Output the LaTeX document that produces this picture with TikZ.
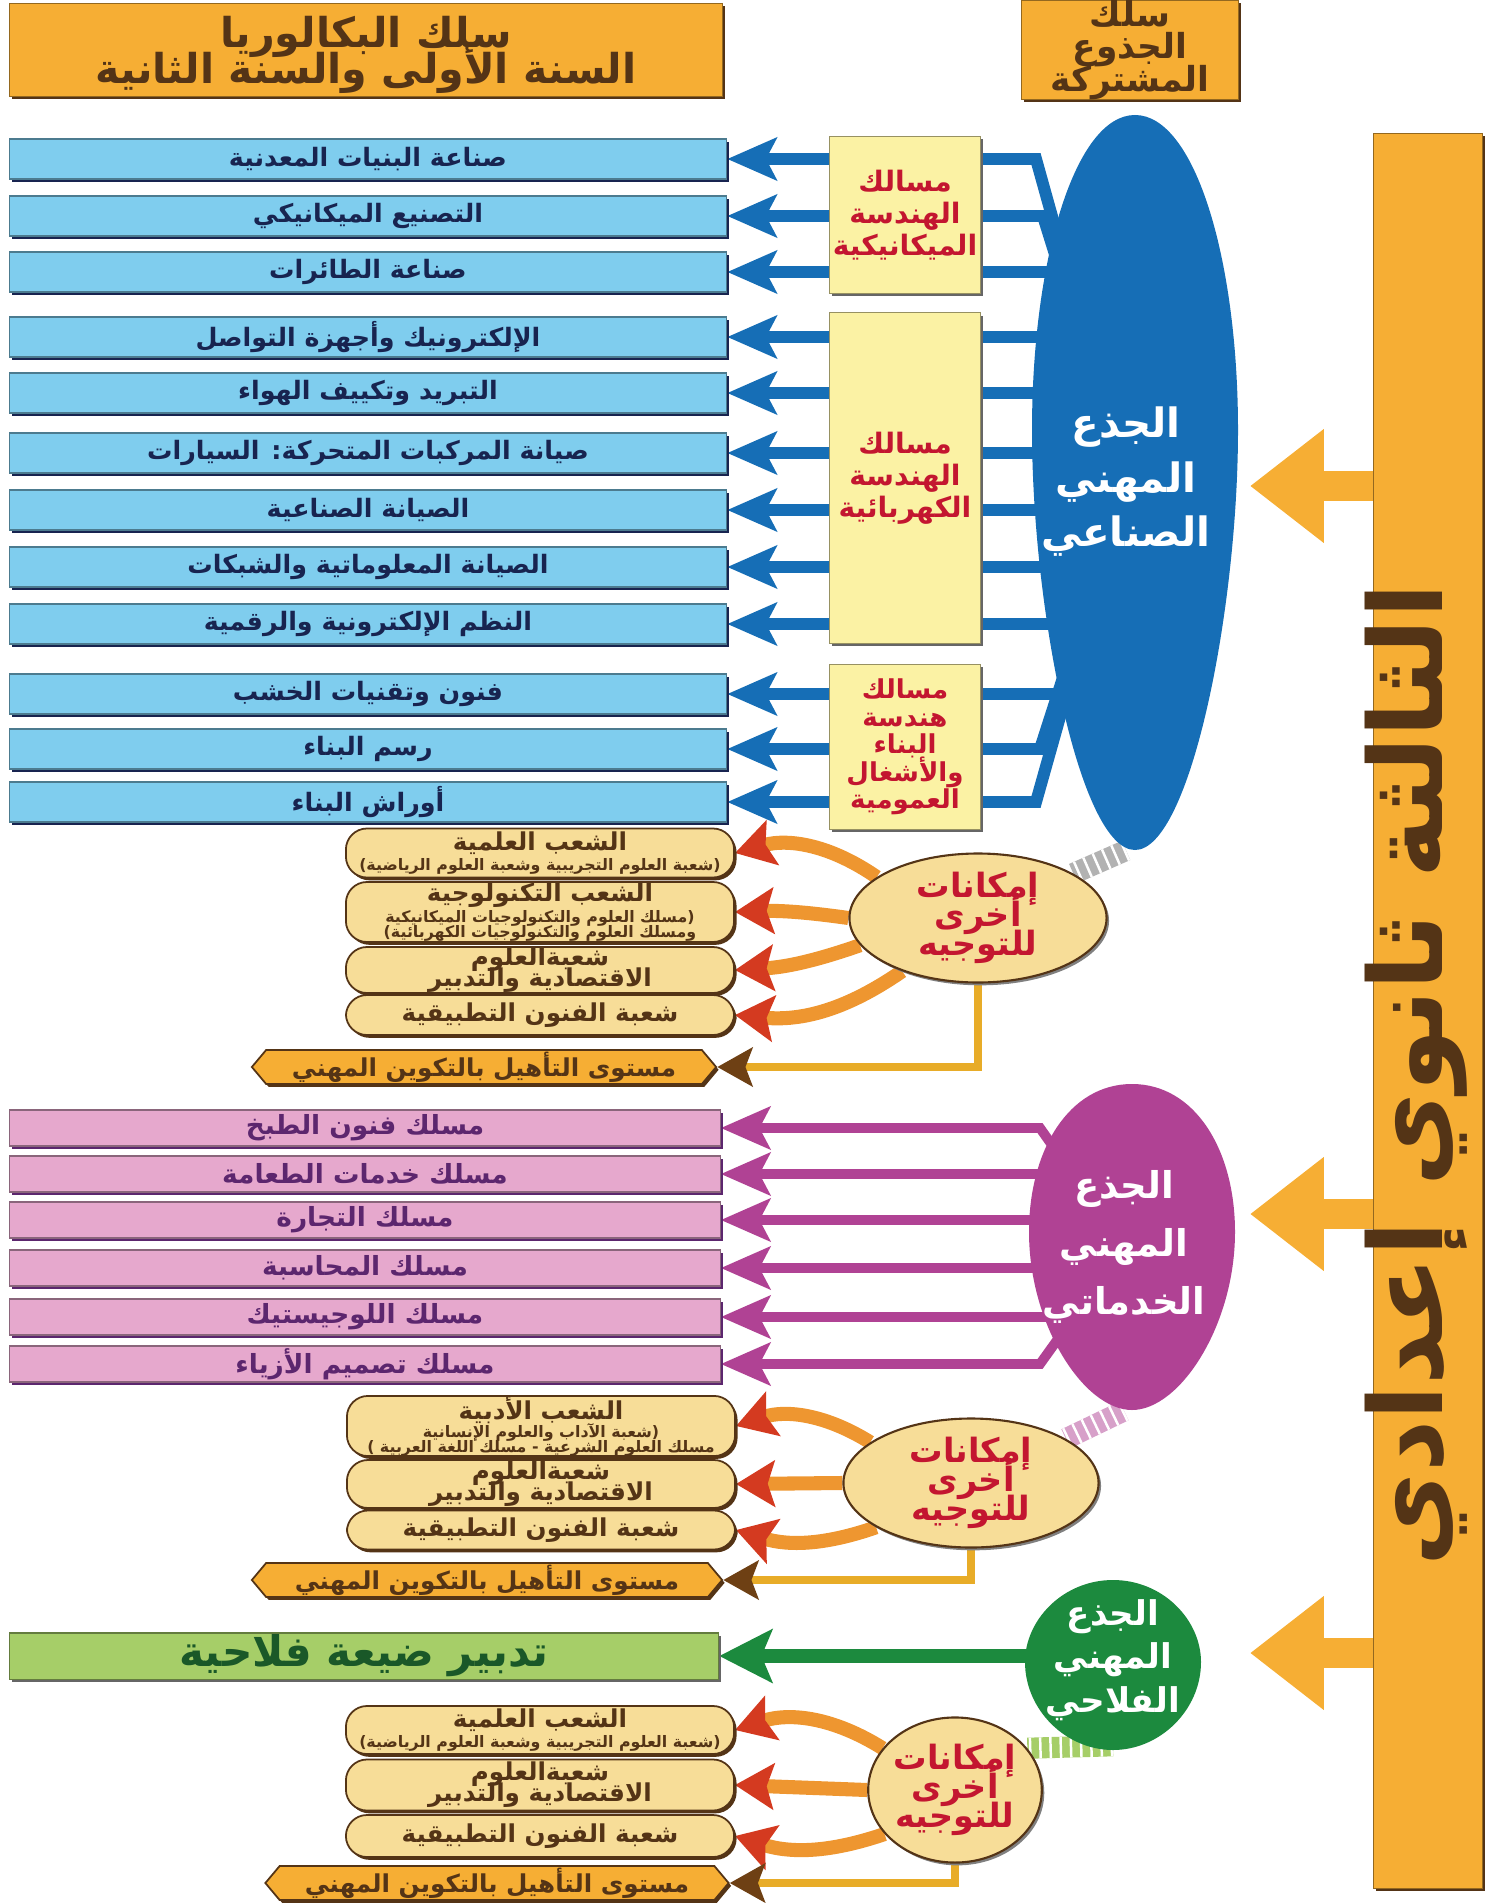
\documentclass[tikz,border=0pt]{standalone}
\usepackage{fontspec}
\usetikzlibrary{shapes.geometric,shapes.symbols,arrows.meta,shadows}

\newfontfamily\arabicfont[Script=Arabic]{DejaVu Sans}
\TeXXeTstate=1
\lineskiplimit=-100pt
\newcommand{\rl}[1]{\beginR #1\endR}
\newcommand{\subline}[1]{{\fontsize{4.5}{4.2}\selectfont\rl{#1}}}

\definecolor{ambar}{RGB}{246,174,52}
\definecolor{headbrown}{RGB}{84,52,22}
\definecolor{skyblue}{RGB}{127,205,238}
\definecolor{navytext}{RGB}{24,36,80}
\definecolor{indblue}{RGB}{22,110,182}
\definecolor{trackyellow}{RGB}{251,242,164}
\definecolor{crimson}{RGB}{195,22,48}
\definecolor{pinkbar}{RGB}{230,168,205}
\definecolor{plum}{RGB}{92,38,110}
\definecolor{svcmagenta}{RGB}{176,66,148}
\definecolor{agrgreen}{RGB}{28,138,62}
\definecolor{limebar}{RGB}{166,206,104}
\definecolor{forest}{RGB}{26,88,40}
\definecolor{sand}{RGB}{247,221,152}
\definecolor{arrowred}{RGB}{212,58,32}
\definecolor{arroworange}{RGB}{238,150,48}
\definecolor{gold}{RGB}{232,172,40}
\definecolor{darkbrown}{RGB}{110,64,20}

\pgfdeclarelayer{background}
\pgfsetlayers{background,main}

\tikzset{
  % shadow under the boxes
  boxshadow/.style={drop shadow={shadow xshift=0.7pt,shadow yshift=-0.8pt,fill=#1,opacity=1}},
  headbox/.style={rectangle, fill=ambar, draw=ambar!60!black, line width=0.3pt, inner sep=0pt,
    align=center, text=headbrown, boxshadow=headbrown},
  trunk/.style={rectangle, inner sep=0pt, align=center, text=white,
    font=\arabicfont\bfseries\fontsize{11.5}{15.5}\selectfont},
  trackbox/.style={rectangle, fill=trackyellow, draw=trackyellow!60!black, line width=0.3pt,
    minimum width=1.5cm, inner sep=0pt, align=center, text=crimson, boxshadow=black!60,
    font=\arabicfont\bfseries\fontsize{8}{9.1}\selectfont},
  indbar/.style={rectangle, fill=skyblue, draw=skyblue!60!black, line width=0.3pt,
    minimum width=7.17cm, minimum height=0.4cm, inner sep=0pt, text=navytext, boxshadow=navytext,
    font=\arabicfont\bfseries\fontsize{7.2}{8}\selectfont},
  svcbar/.style={rectangle, fill=pinkbar, draw=pinkbar!60!black, line width=0.3pt,
    minimum width=7.10cm, minimum height=0.36cm, inner sep=0pt, text=plum, boxshadow=plum,
    font=\arabicfont\bfseries\fontsize{7.5}{8}\selectfont},
  agrbar/.style={rectangle, fill=limebar, draw=limebar!60!black, line width=0.3pt,
    minimum width=7.09cm, minimum height=0.46cm, inner sep=0pt, text=forest, boxshadow=black!60,
    font=\arabicfont\bfseries\fontsize{12}{13}\selectfont},
  optnode/.style={ellipse, fill=sand, draw=headbrown, line width=0.6pt, inner sep=0pt,
    align=center, text=crimson, boxshadow=black!50,
    font=\arabicfont\bfseries\fontsize{9.5}{8.2}\selectfont},
  branchbox/.style={rectangle, rounded corners=6pt, fill=sand, draw=headbrown, line width=0.5pt,
    minimum width=3.88cm, inner sep=0pt, align=center, text=headbrown, boxshadow=headbrown,
    font=\arabicfont\bfseries\fontsize{7}{4.2}\selectfont},
  qualify/.style={signal, signal to=west and east, signal pointer angle=100, fill=ambar,
    draw=headbrown, line width=0.5pt, minimum height=0.34cm, inner sep=0pt, text=headbrown,
    boxshadow=headbrown, font=\arabicfont\bfseries\fontsize{7}{8}\selectfont},
  indarrow/.style={draw=indblue, line width=3.4pt, -{Stealth[length=14pt,width=12pt,inset=3pt]}},
  svcarrow/.style={draw=svcmagenta, line width=2.8pt, -{Stealth[length=14pt,width=12pt,inset=3pt]}},
  agrarrow/.style={draw=agrgreen, line width=4pt, -{Stealth[length=15pt,width=15pt,inset=3pt]}},
  bigarrow/.style={draw=ambar, line width=8.5pt, -{Triangle[length=21pt,width=31pt]}},
  optarrow/.style={draw=arroworange, line width=4pt,
    -{Stealth[length=11pt,width=13pt,inset=2pt,color=arrowred]}},
  goldarrow/.style={draw=gold, line width=2.3pt,
    -{Stealth[length=10pt,width=11pt,inset=2pt,color=darkbrown]}},
  cord/.style={draw=#1, line width=6pt},
  cordstripes/.style={draw=white, line width=6pt, dash pattern=on 0.7pt off 2.2pt},
}

\begin{document}
\begin{tikzpicture}[x=0.01cm,y=-0.01cm]
  \useasboundingbox (0,0) rectangle (1487,1903);

  % Column headings
  \node[headbox, minimum width=7.12cm, minimum height=0.93cm, text depth=0pt,
        font=\arabicfont\bfseries\fontsize{11.7}{10.2}\selectfont] (bac) at (366,50)
        {\rl{سلك البكالوريا}\\\rl{السنة الأولى والسنة الثانية}};
  \node[headbox, minimum width=2.16cm, minimum height=0.93cm,
        font=\arabicfont\bfseries\fontsize{9.8}{9.2}\selectfont] (tc) at (1130,50)
        {\rl{سلك}\\\rl{الجذوع}\\\rl{المشتركة}};

  % Vertical bar of the third year
  \node[headbox, minimum width=1.09cm, minimum height=17.54cm] (vbar) at (1428,1011) {};
  \node[rotate=90, text=headbrown, font=\arabicfont\bfseries\fontsize{29}{32}\selectfont]
        (vtitle) at (1416,1075) {\rl{الثالثة ثانوي إعدادي}};
  \coordinate (t1) at (1250,486);
  \coordinate (t2) at (1250,1214);
  \coordinate (t3) at (1250,1653);

  % The three trunks (egg shaped)
  \fill[indblue] (1135,115) .. controls (1195,115) and (1238,260) .. (1238,430)
                 .. controls (1238,610) and (1190,850) .. (1135,850)
                 .. controls (1080,850) and (1032,610) .. (1032,430)
                 .. controls (1032,260) and (1075,115) .. (1135,115);
  \node[trunk, minimum height=7.35cm] (ind) at (1126,482)
        {\rl{الجذع}\\\rl{المهني}\\\rl{الصناعي}};
  \fill[svcmagenta] (1132,1084) .. controls (1195,1084) and (1235,1150) .. (1235,1232)
                    .. controls (1235,1325) and (1180,1410) .. (1132,1410)
                    .. controls (1084,1410) and (1029,1325) .. (1029,1232)
                    .. controls (1029,1150) and (1069,1084) .. (1132,1084);
  \node[trunk, minimum height=3.26cm, font=\arabicfont\bfseries\fontsize{10.5}{16.4}\selectfont]
        (svc) at (1124,1247) {\rl{الجذع}\\\rl{المهني}\\\rl{الخدماتي}};
  \fill[agrgreen] (1113,1580) .. controls (1163,1580) and (1201,1620) .. (1201,1662)
                  .. controls (1201,1710) and (1160,1750) .. (1113,1750)
                  .. controls (1066,1750) and (1025,1710) .. (1025,1662)
                  .. controls (1025,1620) and (1063,1580) .. (1113,1580);
  \node[trunk, minimum height=1.70cm, font=\arabicfont\bfseries\fontsize{9.7}{12.3}\selectfont]
        (agr) at (1113,1660) {\rl{الجذع}\\\rl{المهني}\\\rl{الفلاحي}};

  % Engineering tracks of the industrial trunk
  \node[trackbox, minimum height=1.57cm] (ym1) at (905,215)
        {\rl{مسالك}\\\rl{الهندسة}\\\rl{الميكانيكية}};
  \node[trackbox, minimum height=3.30cm] (ym2) at (905,478)
        {\rl{مسالك}\\\rl{الهندسة}\\\rl{الكهربائية}};
  \node[trackbox, minimum height=1.65cm, font=\arabicfont\bfseries\fontsize{7.4}{7.8}\selectfont]
        (ym3) at (905,747) {\rl{مسالك}\\\rl{هندسة}\\\rl{البناء}\\\rl{والأشغال}\\\rl{العمومية}};

  % Industrial branches
  \node[indbar] (b1) at (368,159) {\rl{صناعة البنيات المعدنية}};
  \node[indbar] (b2) at (368,216) {\rl{التصنيع الميكانيكي}};
  \node[indbar] (b3) at (368,272) {\rl{صناعة الطائرات}};
  \node[indbar] (b4) at (368,337) {\rl{الإلكترونيك وأجهزة التواصل}};
  \node[indbar] (b5) at (368,393) {\rl{التبريد وتكييف الهواء}};
  \node[indbar] (b6) at (368,453) {\rl{صيانة المركبات المتحركة: السيارات}};
  \node[indbar] (b7) at (368,510) {\rl{الصيانة الصناعية}};
  \node[indbar] (b8) at (368,567) {\rl{الصيانة المعلوماتية والشبكات}};
  \node[indbar] (b9) at (368,624) {\rl{النظم الإلكترونية والرقمية}};
  \node[indbar] (b10) at (368,694) {\rl{فنون وتقنيات الخشب}};
  \node[indbar] (b11) at (368,749) {\rl{رسم البناء}};
  \node[indbar] (b12) at (368,802) {\rl{أوراش البناء}};

  % Service branches
  \node[svcbar] (p1) at (365,1128) {\rl{مسلك فنون الطبخ}};
  \node[svcbar] (p2) at (365,1174) {\rl{مسلك خدمات الطعامة}};
  \node[svcbar] (p3) at (365,1220) {\rl{مسلك التجارة}};
  \node[svcbar] (p4) at (365,1268) {\rl{مسلك المحاسبة}};
  \node[svcbar] (p5) at (365,1317) {\rl{مسلك اللوجيستيك}};
  \node[svcbar] (p6) at (365,1364) {\rl{مسلك تصميم الأزياء}};

  % Agricultural branch
  \node[agrbar] (g1) at (364,1656) {\rl{تدبير ضيعة فلاحية}};

  % Other orientation possibilities
  \node[optnode, minimum width=2.57cm, minimum height=1.19cm] (o1) at (978,918)
        {\rl{إمكانات}\\\rl{أخرى}\\\rl{للتوجيه}};
  \node[optnode, minimum width=2.55cm, minimum height=1.13cm] (o2) at (971,1483)
        {\rl{إمكانات}\\\rl{أخرى}\\\rl{للتوجيه}};
  \node[optnode, minimum width=1.60cm, minimum height=1.45cm] (o3) at (955,1790)
        {\rl{إمكانات}\\\rl{أخرى}\\\rl{للتوجيه}};

  \node[branchbox, minimum height=0.49cm] (a1) at (540,853)
        {\rl{الشعب العلمية}\\[1.7pt]\subline{(شعبة العلوم التجريبية وشعبة العلوم الرياضية)}};
  \node[branchbox, minimum height=0.60cm] (a2) at (540,912)
        {\rl{الشعب التكنولوجية}\\[1.7pt]\subline{(مسلك العلوم والتكنولوجيات الميكانيكية}\\\subline{ومسلك العلوم والتكنولوجيات الكهربائية)}};
  \node[branchbox, minimum height=0.46cm] (a3) at (540,970) {\rl{شعبةالعلوم}\\[1.8pt]\rl{الاقتصادية والتدبير}};
  \node[branchbox, minimum height=0.40cm] (a4) at (540,1015) {\rl{شعبة الفنون التطبيقية}};
  \node[qualify, minimum width=4.64cm] (q1) at (484,1067) {\rl{مستوى التأهيل بالتكوين المهني}};

  \node[branchbox, minimum height=0.53cm] (c1) at (541,1426)
        {\rl{الشعب الأدبية}\\[1pt]\subline{(شعبة الآداب والعلوم الإنسانية}\\\subline{مسلك العلوم الشرعية - مسلك اللغة العربية )}};
  \node[branchbox, minimum height=0.48cm] (c2) at (541,1484) {\rl{شعبةالعلوم}\\[1.8pt]\rl{الاقتصادية والتدبير}};
  \node[branchbox, minimum height=0.39cm] (c3) at (541,1530) {\rl{شعبة الفنون التطبيقية}};
  \node[qualify, minimum width=4.70cm] (q2) at (487,1580) {\rl{مستوى التأهيل بالتكوين المهني}};

  \node[branchbox, minimum height=0.48cm] (e1) at (540,1730)
        {\rl{الشعب العلمية}\\[1.7pt]\subline{(شعبة العلوم التجريبية وشعبة العلوم الرياضية)}};
  \node[branchbox, minimum height=0.51cm] (e2) at (540,1785) {\rl{شعبةالعلوم}\\[1.8pt]\rl{الاقتصادية والتدبير}};
  \node[branchbox, minimum height=0.42cm] (e3) at (540,1836) {\rl{شعبة الفنون التطبيقية}};
  \node[qualify, minimum width=4.63cm] (q3) at (497,1883) {\rl{مستوى التأهيل بالتكوين المهني}};

  \begin{pgfonlayer}{background}
    % Arrows out of the vertical bar
    \draw[bigarrow] (vbar.west |- t1) -- (t1);
    \draw[bigarrow] (vbar.west |- t2) -- (t2);
    \draw[bigarrow] (vbar.west |- t3) -- (t3);

    % Industrial trunk to its branches
    \draw[indarrow] (ind.center) -- (1036,159) -- (b1.east);
    \draw[indarrow] (ind.center) -- (1043,216) -- (b2.east);
    \draw[indarrow] (ind.center |- b3.east) -- (b3.east);
    \draw[indarrow] (ind.center |- b4.east) -- (b4.east);
    \draw[indarrow] (ind.center |- b5.east) -- (b5.east);
    \draw[indarrow] (ind.center |- b6.east) -- (b6.east);
    \draw[indarrow] (ind.center |- b7.east) -- (b7.east);
    \draw[indarrow] (ind.center |- b8.east) -- (b8.east);
    \draw[indarrow] (ind.center |- b9.east) -- (b9.east);
    \draw[indarrow] (ind.center |- b10.east) -- (b10.east);
    \draw[indarrow] (ind.center) -- (1040,749) -- (b11.east);
    \draw[indarrow] (ind.center) -- (1036,802) -- (b12.east);

    % Service trunk to its branches
    \draw[svcarrow] (svc.center) -- (1040,1128) -- (p1.east);
    \draw[svcarrow] (svc.center |- p2.east) -- (p2.east);
    \draw[svcarrow] (svc.center |- p3.east) -- (p3.east);
    \draw[svcarrow] (svc.center |- p4.east) -- (p4.east);
    \draw[svcarrow] (svc.center |- p5.east) -- (p5.east);
    \draw[svcarrow] (svc.center) -- (1040,1364) -- (p6.east);

    % Agricultural trunk
    \draw[agrarrow] (agr.center |- g1.east) -- (g1.east);

    % Cords from each trunk to its other possibilities
    \draw[cord=gray!60] (ind.south) -- (o1.25);
    \draw[cordstripes] (ind.south) -- (o1.25);
    \draw[cord=svcmagenta!50] (svc.south) -- (o2.25);
    \draw[cordstripes] (svc.south) -- (o2.25);
    \draw[cord=limebar] (agr.south) -- (o3.30);
    \draw[cordstripes] (agr.south) -- (o3.30);

    % Other possibilities of the industrial trunk
    \draw[optarrow] (o1.158) to[bend right=25] (a1.east);
    \draw[optarrow] (o1.west) to[bend right=5] (a2.east);
    \draw[optarrow] (o1.193) to[bend left=8] (a3.east);
    \draw[optarrow] (o1.215) to[bend left=20] (a4.east);
    \draw[goldarrow] (o1.south) |- (q1.east);

    % Other possibilities of the service trunk
    \draw[optarrow] (o2.158) to[bend right=25] (c1.east);
    \draw[optarrow] (o2.west) -- (c2.east);
    \draw[optarrow] (o2.205) to[bend left=18] (c3.east);
    \draw[goldarrow] (o2.south) |- (q2.east);

    % Other possibilities of the agricultural trunk
    \draw[optarrow] (o3.150) to[bend right=25] (e1.east);
    \draw[optarrow] (o3.west) -- (e2.east);
    \draw[optarrow] (o3.212) to[bend left=18] (e3.east);
    \draw[goldarrow] (o3.south) |- (q3.east);
  \end{pgfonlayer}

\end{tikzpicture}
\end{document}
